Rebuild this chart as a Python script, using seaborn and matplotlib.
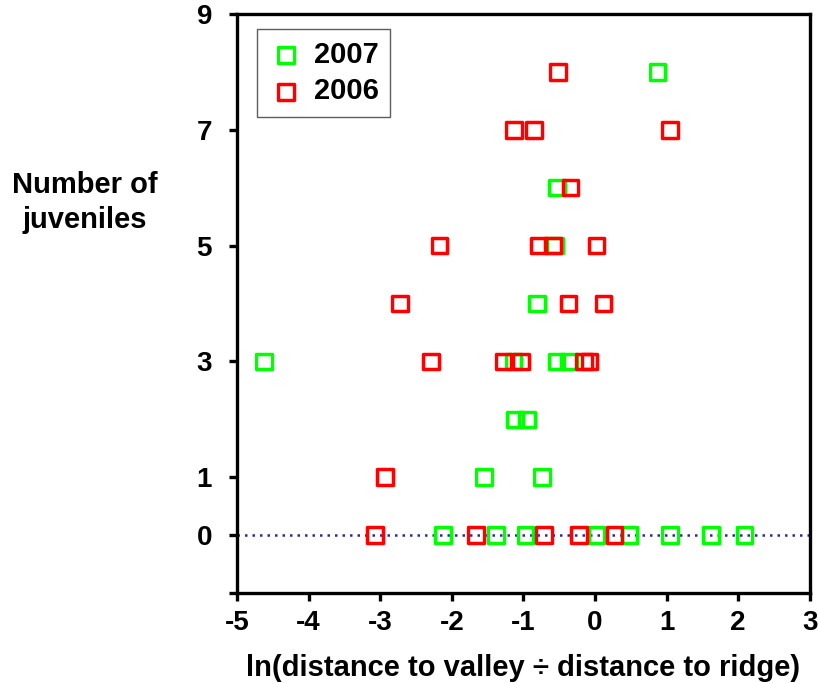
import pandas as pd
import matplotlib.pyplot as plt
import seaborn as sns

# 2007 (green)
x_2007 = [0.87, -0.53, -0.56, -0.81, -4.62, -1.14, -0.54, -0.36, -1.12, -0.95,
          -1.55, -0.74, -2.12, -1.38, -0.97, 0.02, 0.48, 1.05, 1.62, 2.09]
y_2007 = [8, 6, 5, 4, 3, 3, 3, 3, 2, 2,
          1, 1, 0, 0, 0, 0, 0, 0, 0, 0]

# 2006 (red)
x_2006 = [-0.52, -1.13, -0.85, 1.05, -0.34, -2.17, -0.79, -0.59, 0.02, -2.72,
          -0.37, 0.12, -2.29, -1.28, -1.03, -0.15, -0.08, -2.93, -3.07, -1.66,
          -0.71, -0.22, 0.27]
y_2006 = [8, 7, 7, 7, 6, 5, 5, 5, 5, 4,
          4, 4, 3, 3, 3, 3, 3, 1, 0, 0,
          0, 0, 0]

years = ["2007", "2006"]
colors = {"2007": "#00ff00", "2006": "#ff0000"}

df = pd.concat([
    pd.DataFrame({"x": x_2007, "y": y_2007, "year": "2007"}),
    pd.DataFrame({"x": x_2006, "y": y_2006, "year": "2006"}),
])

sns.set_style("white")
plt.rcParams["font.family"] = ["Liberation Sans", "DejaVu Sans"]
plt.rcParams["font.weight"] = "bold"
plt.rcParams["axes.unicode_minus"] = False
plt.rcParams["text.color"] = "black"
plt.rcParams["axes.labelcolor"] = "black"

fig = plt.figure(figsize=(8.18, 6.83), dpi=100)
ax = fig.add_axes([0.2897, 0.1318, 0.7003, 0.8477])

ax.axhline(0, color="#2a2a9a", linestyle=(0, (1, 2)), linewidth=1.8, zorder=1)

for yr in years:
    sub = df[df["year"] == yr]
    sns.scatterplot(data=sub, x="x", y="y", ax=ax, marker="s", s=125,
                    facecolor="none", edgecolor=colors[yr], linewidth=2.5,
                    label=yr, zorder=3)

ax.set_xlim(-5, 3)
ax.set_ylim(-1, 9)
ax.set_xticks(range(-5, 4))
ax.set_yticks([-1, 0, 1, 3, 5, 7, 9])
ax.set_yticklabels(["", "0", "1", "3", "5", "7", "9"])
ax.yaxis.get_major_ticks()[1].tick1line.set_visible(False)

for sp in ax.spines.values():
    sp.set_linewidth(2.4)
    sp.set_color("black")

ax.tick_params(axis="both", direction="out", length=6, width=2.4,
               labelsize=20, colors="black", pad=6)
ax.tick_params(left=True, bottom=True)
ax.tick_params(axis="y", pad=12)
for lab in ax.get_xticklabels() + ax.get_yticklabels():
    lab.set_fontweight("bold")

ax.set_xlabel("ln(distance to valley \u00f7 distance to ridge)",
              fontsize=21, fontweight="bold", labelpad=13)
ax.set_ylabel("Number of\njuveniles", fontsize=21, fontweight="bold",
              rotation=0, ha="center", va="center", linespacing=1.3)
ax.yaxis.set_label_coords(-0.265, 0.674)

leg = ax.legend(loc="upper left", bbox_to_anchor=(0.035, 0.974), frameon=True,
                fancybox=False, edgecolor="#333333",
                prop={"weight": "bold", "size": 21}, handletextpad=0.35,
                handlelength=1.2, borderpad=0.4, labelspacing=0.3,
                borderaxespad=0)
leg.get_frame().set_linewidth(1.0)

fig.savefig("out.png", dpi=100)
